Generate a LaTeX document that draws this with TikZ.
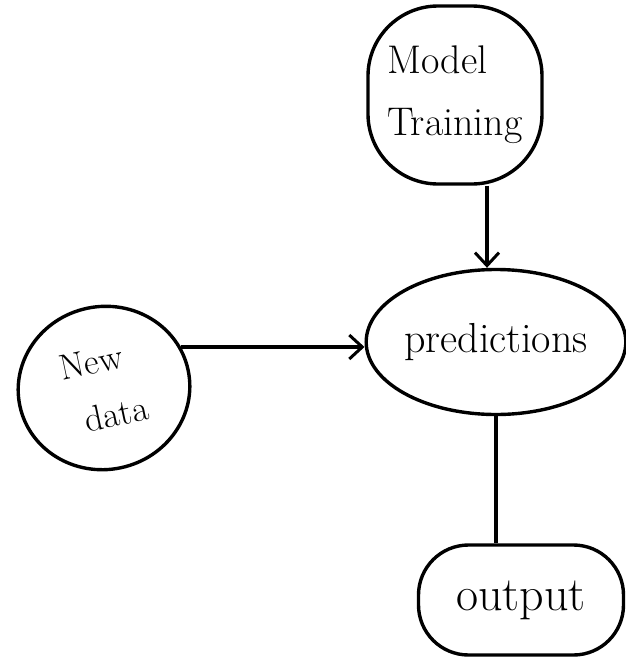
\documentclass[tikz,border=0pt]{standalone}
\usetikzlibrary{shapes.geometric,arrows.meta}

\tikzset{
  blob/.style={draw, line width=3.4pt, align=left, inner sep=0pt,
    font=\fontsize{40}{48}\selectfont},
  flow/.style={line width=3.2pt, -{Straight Barb[length=13pt,width=24pt,line width=3pt]}}
}

\begin{document}
\begin{tikzpicture}[x=1pt,y=-1pt]
  \useasboundingbox (0,0) rectangle (625,659);
  % nodes
  \node[blob, rounded corners=70pt, minimum width=174pt, minimum height=178pt] (train) at (455,95) {Model\\[14pt]Training};
  \node[blob, ellipse, minimum width=252pt, minimum height=145pt, font=\fontsize{42}{48}\selectfont] (pred) at (496,342) {predictions};
  \node[blob, ellipse, rotate=12, minimum width=172pt, minimum height=163pt, font=\fontsize{36}{42}\selectfont] (newdata) at (104,388) {New\\[14pt]\hspace*{14pt}data};
  \node[blob, rounded corners=50pt, minimum width=205pt, minimum height=110pt, font=\fontsize{48}{54}\selectfont] (out) at (521,600) {output};
  % connectors
  \draw[flow] ([xshift=32pt]train.south) -- ([xshift=32pt]train.south |- pred.north);
  \draw[flow] (newdata.16) -- (newdata.16 -| pred.west);
  \draw[line width=3.4pt] (pred.south) -- (pred.south |- out.north);
\end{tikzpicture}
\end{document}
